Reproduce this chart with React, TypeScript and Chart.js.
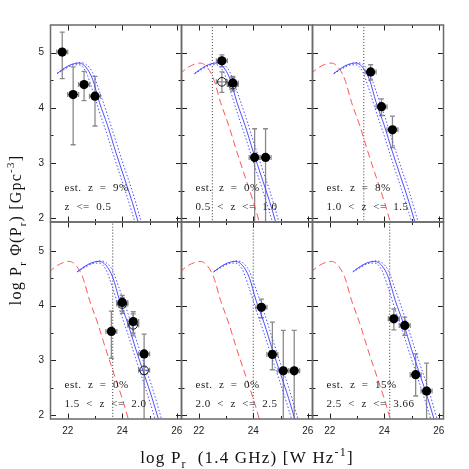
import React, { useEffect, useRef } from "react";
import { Chart, registerables } from "chart.js";
Chart.register(...registerables);

const SIZE = 469;
const X_MIN = 21.37, X_MAX = 26.17, Y_MIN = 1.93;
const Y_MAX_BY_ROW = [5.5, 5.53];
const PANEL_LEFTS = [50.5, 181.5, 312.5];
const PANEL_TOPS = [25, 222];
const PANEL_W = 131, PANEL_H = 197;

const xTickValues = [22, 23, 24, 25, 26];
const xLabelValues = [22, 24, 26];
const yTickValues = [2, 2.5, 3, 3.5, 4, 4.5, 5];
const yLabelValues = [2, 3, 4, 5];

// half bin width of the luminosity bins (x error bars)
const binHalfWidth = 0.2;

// local (z=0) luminosity function, red dashed
const localLFX = [21.3, 21.6, 21.85, 22.05, 22.3, 22.55, 22.8, 23.1, 23.4, 23.7, 24.0, 24.25, 24.5];
const localLFY = [4.61, 4.73, 4.79, 4.81, 4.74, 4.52, 4.1, 3.68, 3.2, 2.75, 2.3, 1.88, 1.45];

// evolved fit (solid blue) and its uncertainty band (dotted blue)
const fitY = [4.62, 4.71, 4.78, 4.81, 4.74, 4.52, 4.1, 3.68, 3.2, 2.75, 2.3, 1.88, 1.45];
const fitHiY = [4.62, 4.69, 4.76, 4.82, 4.79, 4.64, 4.3, 3.87, 3.4, 2.94, 2.5, 2.08, 1.65];
const fitLoY = [4.62, 4.71, 4.77, 4.78, 4.66, 4.32, 3.93, 3.49, 3.02, 2.57, 2.1, 1.68, 1.25];
const fitX1 = [21.61, 21.86, 22.11, 22.41, 22.66, 22.91, 23.16, 23.46, 23.76, 24.06, 24.36, 24.61, 24.86];
const fitX2 = [21.85, 22.1, 22.35, 22.65, 22.9, 23.15, 23.4, 23.7, 24.0, 24.3, 24.6, 24.85, 25.1];
const fitX3 = [22.15, 22.4, 22.65, 22.95, 23.2, 23.45, 23.7, 24.0, 24.3, 24.6, 24.9, 25.15, 25.4];
const fitX4 = [22.35, 22.6, 22.85, 23.15, 23.4, 23.65, 23.9, 24.2, 24.5, 24.8, 25.1, 25.35, 25.6];
const fitX5 = [22.55, 22.8, 23.05, 23.35, 23.6, 23.85, 24.1, 24.4, 24.7, 25.0, 25.3, 25.55, 25.8];
const fitX6 = [22.85, 23.1, 23.35, 23.65, 23.9, 24.15, 24.4, 24.7, 25.0, 25.3, 25.6, 25.85, 26.1];

// measured points (filled)
const p1X = [21.8, 22.2, 22.6, 23.0];
const p1Y = [5.01, 4.24, 4.42, 4.21];
const p1Hi = [5.37, 4.74, 4.66, 4.57];
const p1Lo = [4.53, 3.33, 4.13, 3.67];

const p2X = [22.85, 23.25, 24.05, 24.45];
const p2Y = [4.85, 4.45, 3.1, 3.1];
const p2Hi = [4.96, 4.57, 3.62, 3.62];
const p2Lo = [4.74, 4.32, 1.8, 1.8];
const o2X = [22.85, 23.25];
const o2Y = [4.47, 4.42];
const o2Hi = [4.65, 4.55];
const o2Lo = [4.28, 4.3];

const p3X = [23.5, 23.9, 24.3];
const p3Y = [4.65, 4.02, 3.6];
const p3Hi = [4.78, 4.16, 3.85];
const p3Lo = [4.5, 3.86, 3.28];

const p4X = [23.6, 24.0, 24.4, 24.8];
const p4Y = [3.53, 4.06, 3.71, 3.12];
const p4Hi = [3.9, 4.19, 3.89, 3.48];
const p4Lo = [3.04, 3.86, 3.5, 2.74];
const o4X = [24.0, 24.4, 24.8];
const o4Y = [4.03, 3.65, 2.82];
const o4Hi = [4.15, 3.85, 3.1];
const o4Lo = [3.9, 3.45, 1.8];

const p5X = [24.3, 24.7, 25.1, 25.5];
const p5Y = [3.97, 3.11, 2.81, 2.81];
const p5Hi = [4.12, 3.7, 3.55, 3.55];
const p5Lo = [3.78, 2.83, 1.8, 1.8];

const p6X = [24.35, 24.75, 25.15, 25.55];
const p6Y = [3.76, 3.64, 2.74, 2.44];
const p6Hi = [3.94, 3.79, 3.12, 2.95];
const p6Lo = [3.56, 3.46, 2.35, 1.8];

const estLabels = ["est.  z  =  9%", "est.  z  =  0%", "est.  z  =  8%", "est.  z  =  0%", "est.  z  =  0%", "est.  z  =  15%"];
const rangeLabels = ["z  <=  0.5", "0.5  <  z  <=  1.0", "1.0  <  z  <=  1.5", "1.5  <  z  <=  2.0", "2.0  <  z  <=  2.5", "2.5  <  z  <=  3.66"];
const completenessLimits: (number | null)[] = [null, 22.5, 23.25, 23.65, 24.0, 24.2];

type PtSet = { x: number[]; y: number[]; hi: number[]; lo: number[] };
type Panel = { fitX: number[]; showLocal: boolean; filled: PtSet; open: PtSet | null };

const panels: Panel[] = [
  { fitX: fitX1, showLocal: false, filled: { x: p1X, y: p1Y, hi: p1Hi, lo: p1Lo }, open: null },
  { fitX: fitX2, showLocal: true, filled: { x: p2X, y: p2Y, hi: p2Hi, lo: p2Lo }, open: { x: o2X, y: o2Y, hi: o2Hi, lo: o2Lo } },
  { fitX: fitX3, showLocal: true, filled: { x: p3X, y: p3Y, hi: p3Hi, lo: p3Lo }, open: null },
  { fitX: fitX4, showLocal: true, filled: { x: p4X, y: p4Y, hi: p4Hi, lo: p4Lo }, open: { x: o4X, y: o4Y, hi: o4Hi, lo: o4Lo } },
  { fitX: fitX5, showLocal: true, filled: { x: p5X, y: p5Y, hi: p5Hi, lo: p5Lo }, open: null },
  { fitX: fitX6, showLocal: true, filled: { x: p6X, y: p6Y, hi: p6Hi, lo: p6Lo }, open: null },
];

const BLUE = "#4f4fff";
const RED = "#ff5555";
const ERR = "#8a8a8a";
const SERIF = '"Liberation Serif", "DejaVu Serif", serif';
const SANS = '"Liberation Sans", Arial, sans-serif';

const zip = (xs: number[], ys: number[]) => xs.map((x, i) => ({ x, y: ys[i] }));

function drawRich(ctx: CanvasRenderingContext2D, segs: [string, number][], cx: number, cy: number, size: number) {
  const fontFor = (k: number) => `${k ? Math.round(size * 0.68) : size}px ${SERIF}`;
  let total = 0;
  const ws = segs.map(([t, k]) => {
    ctx.font = fontFor(k);
    const w = ctx.measureText(t).width;
    total += w;
    return w;
  });
  let x = cx - total / 2;
  ctx.textAlign = "left";
  ctx.textBaseline = "alphabetic";
  segs.forEach(([t, k], i) => {
    ctx.font = fontFor(k);
    const dy = k === 1 ? size * 0.3 : k === 2 ? -size * 0.42 : 0;
    ctx.fillText(t, x, cy + dy);
    x += ws[i];
  });
}

function drawErrors(chart: any, s: PtSet) {
  const ctx = chart.ctx as CanvasRenderingContext2D;
  const xs = chart.scales.x, ys = chart.scales.y;
  ctx.strokeStyle = ERR;
  ctx.lineWidth = 1.3;
  s.x.forEach((xv, i) => {
    const px = xs.getPixelForValue(xv);
    const py = ys.getPixelForValue(s.y[i]);
    const pH = ys.getPixelForValue(s.hi[i]);
    const pL = ys.getPixelForValue(s.lo[i]);
    const xl = xs.getPixelForValue(xv - binHalfWidth);
    const xr = xs.getPixelForValue(xv + binHalfWidth);
    ctx.beginPath();
    ctx.moveTo(px, pH); ctx.lineTo(px, pL);
    ctx.moveTo(px - 2.5, pH); ctx.lineTo(px + 2.5, pH);
    ctx.moveTo(px - 2.5, pL); ctx.lineTo(px + 2.5, pL);
    ctx.moveTo(xl, py); ctx.lineTo(xr, py);
    ctx.moveTo(xl, py - 2.5); ctx.lineTo(xl, py + 2.5);
    ctx.moveTo(xr, py - 2.5); ctx.lineTo(xr, py + 2.5);
    ctx.stroke();
  });
}

function makePlugin(idx: number) {
  const col = idx % 3, row = Math.floor(idx / 3);
  const p = panels[idx];
  return {
    id: "panel" + idx,
    beforeDatasetsDraw(chart: any) {
      const ctx = chart.ctx as CanvasRenderingContext2D;
      const a = chart.chartArea;
      ctx.save();
      ctx.beginPath();
      ctx.rect(a.left, a.top, a.right - a.left, a.bottom - a.top);
      ctx.clip();
      if (p.open) drawErrors(chart, p.open);
      drawErrors(chart, p.filled);
      ctx.restore();
    },
    afterDraw(chart: any) {
      const ctx = chart.ctx as CanvasRenderingContext2D;
      const a = chart.chartArea;
      const xs = chart.scales.x, ys = chart.scales.y;
      ctx.save();
      // ticks
      ctx.strokeStyle = "#222";
      ctx.lineWidth = 1;
      ctx.beginPath();
      xTickValues.forEach((v) => {
        const px = Math.round(xs.getPixelForValue(v)) + 0.5;
        const len = v % 2 === 0 ? 5.5 : 3;
        ctx.moveTo(px, a.bottom); ctx.lineTo(px, a.bottom - len);
        ctx.moveTo(px, a.top); ctx.lineTo(px, a.top + len);
      });
      yTickValues.forEach((v) => {
        const py = Math.round(ys.getPixelForValue(v)) + 0.5;
        const len = Number.isInteger(v) ? 5.5 : 3;
        ctx.moveTo(a.left, py); ctx.lineTo(a.left + len, py);
        ctx.moveTo(a.right, py); ctx.lineTo(a.right - len, py);
      });
      ctx.stroke();
      // frame
      ctx.strokeStyle = "#6a6a6a";
      ctx.lineWidth = 1.5;
      ctx.strokeRect(a.left, a.top, a.right - a.left, a.bottom - a.top);
      // tick labels
      ctx.fillStyle = "#222";
      ctx.font = `10px ${SANS}`;
      if (col === 0) {
        ctx.textAlign = "right";
        ctx.textBaseline = "middle";
        yLabelValues.forEach((v) => ctx.fillText(String(v), a.left - 6.5, ys.getPixelForValue(v)));
      }
      if (row === 1) {
        ctx.textAlign = "center";
        ctx.textBaseline = "middle";
        xLabelValues.forEach((v) => ctx.fillText(String(v), xs.getPixelForValue(v), a.bottom + 12.5));
      }
      // annotations
      ctx.fillStyle = "#222";
      ctx.font = `11px ${SERIF}`;
      (ctx as any).letterSpacing = "0.5px";
      ctx.textAlign = "left";
      ctx.textBaseline = "alphabetic";
      ctx.fillText(estLabels[idx], a.left + 14, a.bottom - 31);
      ctx.fillText(rangeLabels[idx], a.left + 14, a.bottom - 12);
      // axis titles
      if (idx === 0) {
        ctx.fillStyle = "#111";
        (ctx as any).letterSpacing = "1.2px";
        drawRich(ctx, [["log P", 0], ["r", 1], ["  (1.4 GHz) [W Hz", 0], ["-1", 2], ["]", 0]], 247, 463, 17);
        ctx.translate(21, 230);
        ctx.rotate(-Math.PI / 2);
        drawRich(ctx, [["log P", 0], ["r", 1], [" \u03A6(P", 0], ["r", 1], [") [Gpc", 0], ["-3", 2], ["]", 0]], 0, 0, 16);
      }
      (ctx as any).letterSpacing = "0px";
      ctx.restore();
    },
  };
}

function buildConfig(idx: number): any {
  const p = panels[idx];
  const row = Math.floor(idx / 3);
  const left = PANEL_LEFTS[idx % 3];
  const top = PANEL_TOPS[row];
  const yMax = Y_MAX_BY_ROW[row];
  const line = (data: any[], color: string, dash: number[]) => ({
    type: "scatter",
    data,
    showLine: true,
    borderColor: color,
    backgroundColor: color,
    borderWidth: 1,
    borderDash: dash,
    pointRadius: 0,
    cubicInterpolationMode: "monotone",
  });
  const datasets: any[] = [
    {
      data: zip(p.filled.x, p.filled.y),
      pointRadius: 4.6,
      pointBackgroundColor: "#000",
      pointBorderColor: "#000",
      pointBorderWidth: 0,
      showLine: false,
    },
  ];
  if (p.open) {
    datasets.push({
      data: zip(p.open.x, p.open.y),
      pointRadius: 4.3,
      pointBackgroundColor: "rgba(255,255,255,0)",
      pointBorderColor: "#111",
      pointBorderWidth: 1,
      showLine: false,
    });
  }
  datasets.push(line(zip(p.fitX, fitY), BLUE, []));
  datasets.push(line(zip(p.fitX, fitHiY), BLUE, [1.5, 2]));
  datasets.push(line(zip(p.fitX, fitLoY), BLUE, [1.5, 2]));
  if (p.showLocal) datasets.push(line(zip(localLFX, localLFY), RED, [7, 4]));
  const lim = completenessLimits[idx];
  if (lim !== null) datasets.push(line([{ x: lim, y: Y_MIN - 1 }, { x: lim, y: yMax + 1 }], "#333", [1, 2]));
  return {
    type: "scatter",
    data: { datasets },
    options: {
      animation: false,
      responsive: false,
      devicePixelRatio: 1,
      events: [],
      layout: { padding: { left, top, right: SIZE - left - PANEL_W, bottom: SIZE - top - PANEL_H } },
      scales: {
        x: { type: "linear", min: X_MIN, max: X_MAX, display: false },
        y: { type: "linear", min: Y_MIN, max: yMax, display: false },
      },
      plugins: { legend: { display: false }, tooltip: { enabled: false }, title: { display: false } },
    },
    plugins: [makePlugin(idx)],
  };
}

export default function App() {
  const refs = useRef<(HTMLCanvasElement | null)[]>([]);
  useEffect(() => {
    const charts = panels.map((_, i) => new Chart(refs.current[i] as HTMLCanvasElement, buildConfig(i)));
    return () => charts.forEach((c) => c.destroy());
  }, []);
  return (
    <div style={{ position: "absolute", left: 0, top: 0, width: SIZE, height: SIZE, background: "#fff" }}>
      {panels.map((_, i) => (
        <canvas
          key={i}
          ref={(el) => {
            refs.current[i] = el;
          }}
          width={SIZE}
          height={SIZE}
          style={{ position: "absolute", left: 0, top: 0, width: SIZE, height: SIZE }}
        />
      ))}
    </div>
  );
}
